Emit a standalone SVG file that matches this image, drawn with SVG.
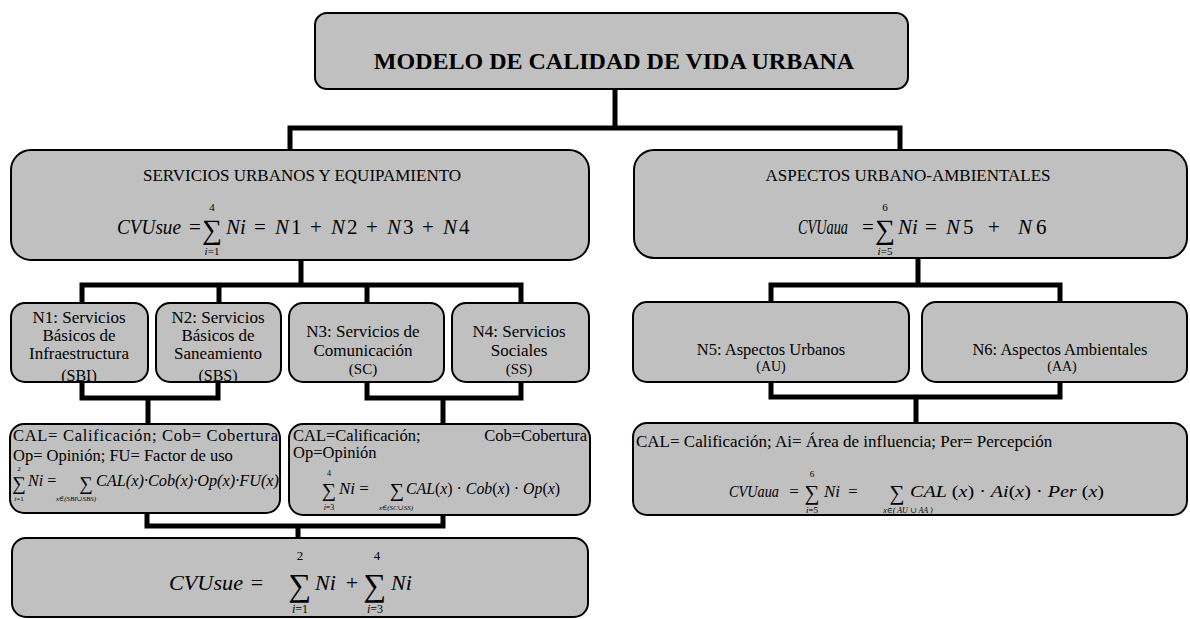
<svg xmlns="http://www.w3.org/2000/svg" width="1190" height="619" viewBox="0 0 1190 619">
<style>
.box{fill:#c0c0c0;stroke:#000;stroke-width:2}
.conn{fill:none;stroke:#000;stroke-width:5;stroke-linejoin:miter;stroke-linecap:butt}
.t{font-family:"Liberation Serif","Times New Roman","DejaVu Serif",serif;fill:#000}
.i{font-style:italic}
.c{text-anchor:middle}
.e{text-anchor:end}
.f{font-size:21px}
.sg{font-size:28px;text-anchor:middle}
.lim{font-size:11px;text-anchor:middle}
</style>
<defs>
<clipPath id="clipN1"><rect x="11" y="303" width="137" height="78"/></clipPath>
<clipPath id="clipN2"><rect x="156" y="303" width="125" height="78"/></clipPath>
</defs>
<rect width="1190" height="619" fill="#fff"/>
<g id="connectors">
<path class="conn" d="M615,89 V128 M290,150 V128 H900 V150"/>
<path class="conn" d="M301,260 V285 M82,303 V285 H521 V303 M219,285 V303 M367,285 V303"/>
<path class="conn" d="M918,258 V285 M771,302 V285 H1060 V302"/>
<path class="conn" d="M82,382 V398 H218 V382 M148,398 V424 M367,382 V398 H521 V382 M443,398 V424"/>
<path class="conn" d="M771,382 V397 H1060 V382 M916,397 V423"/>
<path class="conn" d="M147,513 V526 H443 V515 M298,526 V538"/>
</g>
<g id="modelo">
<rect class="box" x="315" y="13" width="593" height="76" rx="12"/>
<text class="t c" x="614" y="69" font-size="24" font-weight="bold">MODELO DE CALIDAD DE VIDA URBANA</text>
</g>
<g id="servicios">
<rect class="box" x="11" y="150" width="578" height="110" rx="20"/>
<text class="t c" x="302" y="181" font-size="17">SERVICIOS URBANOS Y EQUIPAMIENTO</text>
<text class="t i f" x="117" y="234" textLength="64" lengthAdjust="spacingAndGlyphs">CVUsue</text>
<text class="t c f" x="195" y="234">=</text>
<text class="t sg" x="212" y="239">∑</text>
<text class="t lim" x="212" y="211">4</text>
<text class="t lim" x="212" y="255"><tspan class="i">i</tspan>=1</text>
<text class="t i f" x="226" y="234">Ni</text>
<text class="t c f" x="260" y="234">=</text>
<text class="t f" x="275" y="234"><tspan class="i">N</tspan></text><text class="t f" x="291" y="234">1</text>
<text class="t c f" x="316" y="234">+</text>
<text class="t f" x="331" y="234"><tspan class="i">N</tspan></text><text class="t f" x="347" y="234">2</text>
<text class="t c f" x="372" y="234">+</text>
<text class="t f" x="387" y="234"><tspan class="i">N</tspan></text><text class="t f" x="403" y="234">3</text>
<text class="t c f" x="428" y="234">+</text>
<text class="t f" x="443" y="234"><tspan class="i">N</tspan></text><text class="t f" x="459" y="234">4</text>
</g>
<g id="aspectos">
<rect class="box" x="634" y="150" width="553" height="108" rx="20"/>
<text class="t c" x="908" y="181" font-size="17">ASPECTOS URBANO-AMBIENTALES</text>
<text class="t i f" x="798" y="234" textLength="50" lengthAdjust="spacingAndGlyphs">CVUaua</text>
<text class="t c f" x="868" y="234">=</text>
<text class="t sg" x="885" y="239">∑</text>
<text class="t lim" x="885" y="211">6</text>
<text class="t lim" x="885" y="255"><tspan class="i">i</tspan>=5</text>
<text class="t i f" x="898" y="234">Ni</text>
<text class="t c f" x="931" y="234">=</text>
<text class="t f" x="946" y="234"><tspan class="i">N</tspan></text><text class="t f" x="963" y="234">5</text>
<text class="t c f" x="994" y="234">+</text>
<text class="t f" x="1018" y="234"><tspan class="i">N</tspan></text><text class="t f" x="1036" y="234">6</text>
</g>
<g id="n1">
<rect class="box" x="11" y="303" width="137" height="79" rx="14"/>
<g clip-path="url(#clipN1)">
<text class="t c" x="79" y="323" font-size="17">N1: Servicios</text>
<text class="t c" x="79" y="341" font-size="17">Básicos de</text>
<text class="t c" x="79" y="359" font-size="17">Infraestructura</text>
<text class="t c" x="79" y="381" font-size="16">(SBI)</text>
</g>
</g>
<g id="n2">
<rect class="box" x="156" y="303" width="125" height="79" rx="14"/>
<g clip-path="url(#clipN2)">
<text class="t c" x="218" y="323" font-size="17">N2: Servicios</text>
<text class="t c" x="218" y="341" font-size="17">Básicos de</text>
<text class="t c" x="218" y="359" font-size="17">Saneamiento</text>
<text class="t c" x="218" y="381" font-size="16">(SBS)</text>
</g>
</g>
<g id="n3">
<rect class="box" x="289" y="303" width="155" height="79" rx="14"/>
<text class="t c" x="363" y="337" font-size="17">N3: Servicios de</text>
<text class="t c" x="363" y="356" font-size="17">Comunicación</text>
<text class="t c" x="363" y="374" font-size="15">(SC)</text>
</g>
<g id="n4">
<rect class="box" x="452" y="303" width="137" height="79" rx="14"/>
<text class="t c" x="519" y="337" font-size="17">N4: Servicios</text>
<text class="t c" x="519" y="356" font-size="17">Sociales</text>
<text class="t c" x="519" y="374" font-size="15">(SS)</text>
</g>
<g id="n5">
<rect class="box" x="633" y="302" width="276" height="80" rx="14"/>
<text class="t c" x="771" y="355" font-size="16.5">N5: Aspectos Urbanos</text>
<text class="t c" x="771" y="371" font-size="14">(AU)</text>
</g>
<g id="n6">
<rect class="box" x="922" y="302" width="265" height="80" rx="14"/>
<text class="t c" x="1060" y="355" font-size="16.5">N6: Aspectos Ambientales</text>
<text class="t c" x="1062" y="371" font-size="14">(AA)</text>
</g>
<g id="cal-sbi-sbs">
<rect class="box" x="10" y="424" width="270" height="89" rx="14"/>
<text class="t" x="13" y="441" font-size="16.5" textLength="265" lengthAdjust="spacing">CAL= Calificación; Cob= Cobertura</text>
<text class="t" x="13" y="461" font-size="16.5">Op= Opinión; FU= Factor de uso</text>
<text class="t c" x="19" y="490" font-size="19">∑</text>
<text class="t c" x="19" y="471" font-size="7">2</text>
<text class="t c" x="19" y="501" font-size="7"><tspan class="i">i</tspan>=1</text>
<text class="t" x="28" y="486" font-size="16"><tspan class="i">Ni</tspan> =</text>
<text class="t c" x="86" y="490" font-size="19">∑</text>
<text class="t c i" x="76" y="501" font-size="7">x∈(SBI∪SBS)</text>
<text class="t i" x="96" y="486" font-size="16" textLength="183" lengthAdjust="spacingAndGlyphs">CAL(x)·Cob(x)·Op(x)·FU(x)</text>
</g>
<g id="cal-sc-ss">
<rect class="box" x="289" y="424" width="301" height="91" rx="14"/>
<text class="t" x="293" y="441" font-size="16.5">CAL=Calificación;</text>
<text class="t e" x="587" y="441" font-size="16.5">Cob=Cobertura</text>
<text class="t" x="293" y="458" font-size="16.5">Op=Opinión</text>
<text class="t c" x="329" y="497" font-size="20">∑</text>
<text class="t c" x="329" y="476" font-size="8">4</text>
<text class="t c" x="329" y="510" font-size="8"><tspan class="i">i</tspan>=3</text>
<text class="t" x="339" y="494" font-size="17"><tspan class="i">Ni</tspan> =</text>
<text class="t c" x="397" y="497" font-size="20">∑</text>
<text class="t c i" x="396" y="510" font-size="7">x∈(SC∪SS)</text>
<text class="t" x="406" y="494" font-size="17" textLength="154" lengthAdjust="spacingAndGlyphs"><tspan class="i">CAL</tspan>(<tspan class="i">x</tspan>) · <tspan class="i">Cob</tspan>(<tspan class="i">x</tspan>) · <tspan class="i">Op</tspan>(<tspan class="i">x</tspan>)</text>
</g>
<g id="cal-au-aa">
<rect class="box" x="633" y="423" width="554" height="92" rx="14"/>
<text class="t" x="636" y="447" font-size="17">CAL= Calificación; Ai= Área de influencia; Per= Percepción</text>
<text class="t i" x="729" y="497" font-size="17" textLength="50" lengthAdjust="spacingAndGlyphs">CVUaua</text>
<text class="t c" x="794" y="497" font-size="17">=</text>
<text class="t c" x="812" y="500" font-size="21">∑</text>
<text class="t c" x="812" y="477" font-size="9">6</text>
<text class="t c" x="812" y="513" font-size="9"><tspan class="i">i</tspan>=5</text>
<text class="t i" x="824" y="497" font-size="17">Ni</text>
<text class="t c" x="853" y="497" font-size="17">=</text>
<text class="t c" x="897" y="500" font-size="21">∑</text>
<text class="t c i" x="908" y="513" font-size="8">x∈( AU ∪ AA )</text>
<text class="t" x="910" y="497" font-size="17" textLength="194" lengthAdjust="spacingAndGlyphs"><tspan class="i">CAL</tspan> (<tspan class="i">x</tspan>) · <tspan class="i">Ai</tspan>(<tspan class="i">x</tspan>) · <tspan class="i">Per</tspan> (<tspan class="i">x</tspan>)</text>
</g>
<g id="cvusue-total">
<rect class="box" x="12" y="538" width="576" height="79" rx="14"/>
<text class="t i" x="169" y="590" font-size="22" textLength="74" lengthAdjust="spacingAndGlyphs">CVUsue</text>
<text class="t c" x="257" y="590" font-size="22">=</text>
<text class="t c" x="300" y="596" font-size="32">∑</text>
<text class="t c" x="300" y="560" font-size="13">2</text>
<text class="t c" x="300" y="613" font-size="12"><tspan class="i">i</tspan>=1</text>
<text class="t i" x="315" y="590" font-size="22">Ni</text>
<text class="t c" x="352" y="590" font-size="22">+</text>
<text class="t c" x="375" y="596" font-size="32">∑</text>
<text class="t c" x="377" y="560" font-size="13">4</text>
<text class="t c" x="375" y="613" font-size="12"><tspan class="i">i</tspan>=3</text>
<text class="t i" x="391" y="590" font-size="22">Ni</text>
</g>
</svg>
